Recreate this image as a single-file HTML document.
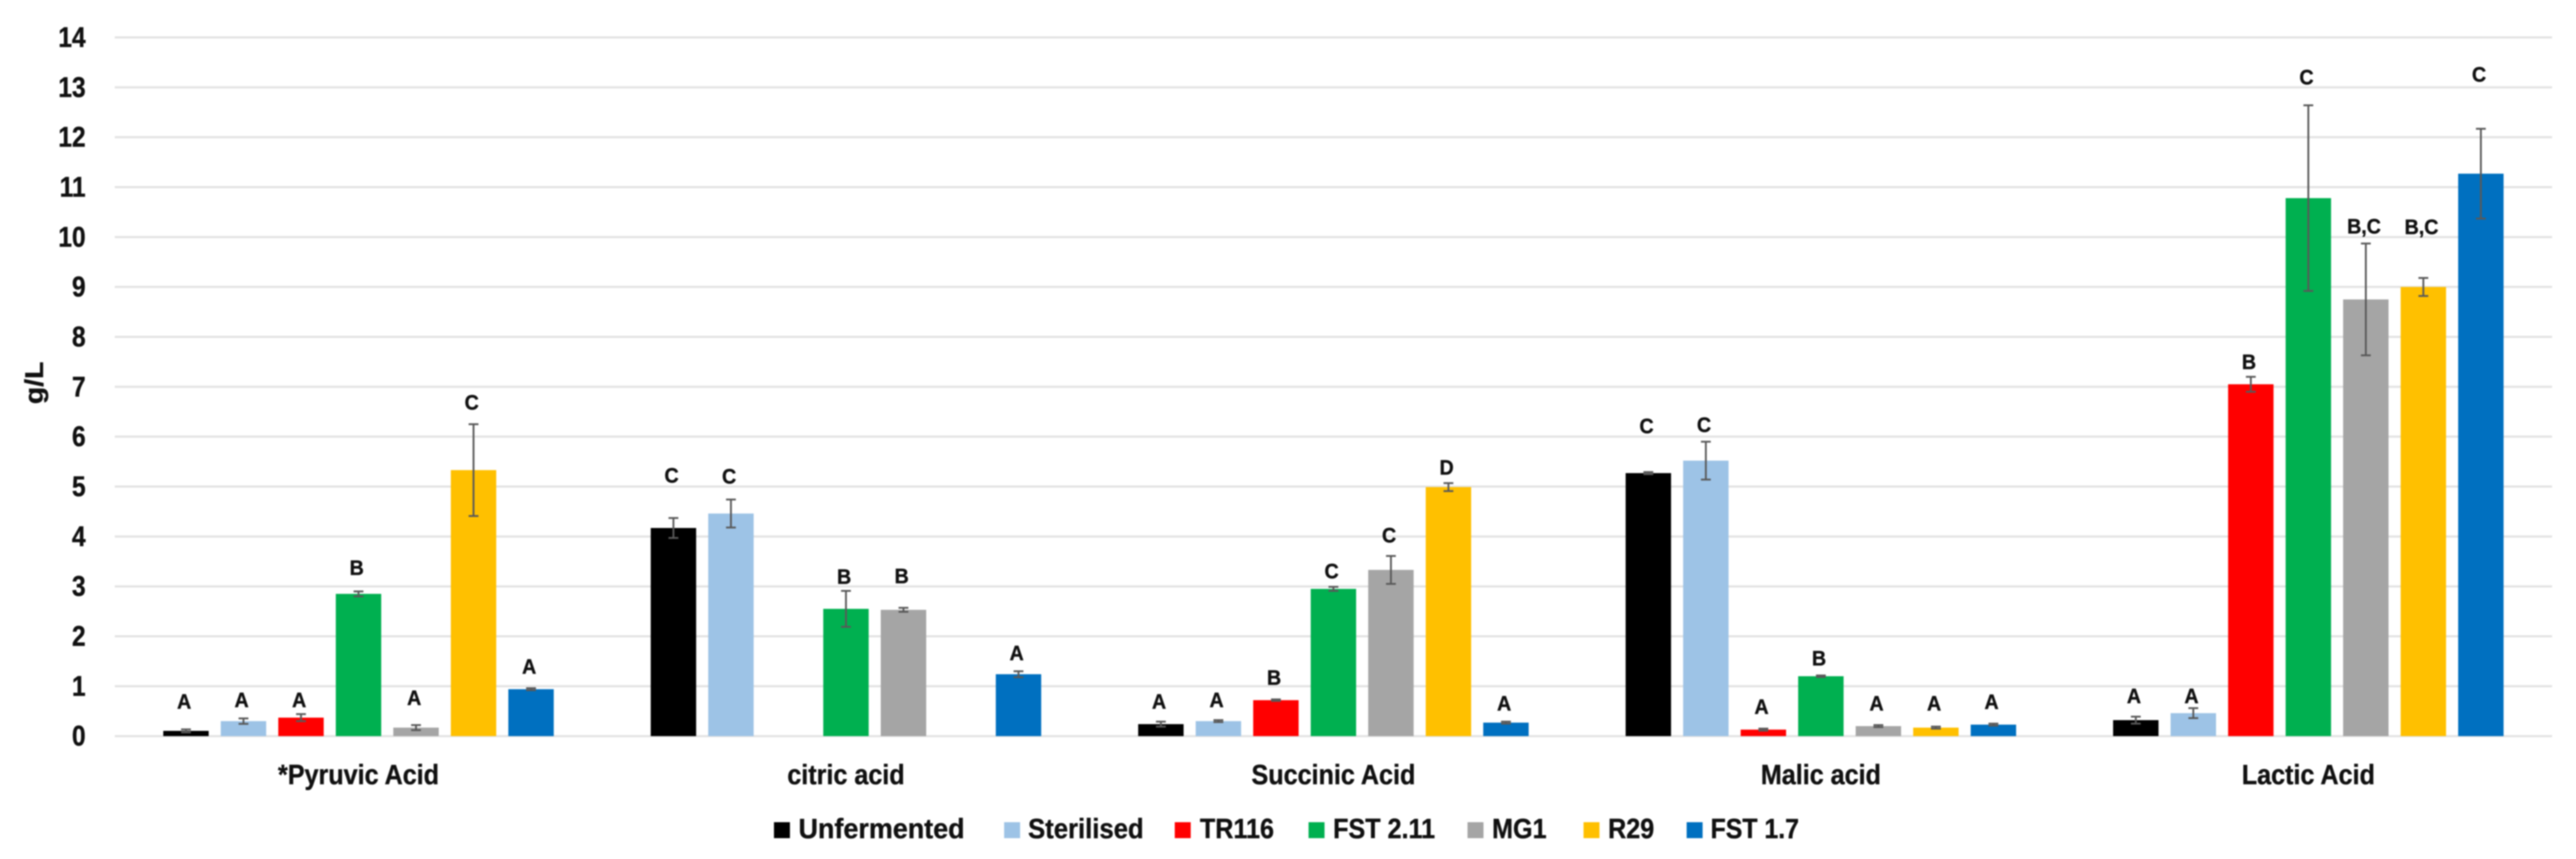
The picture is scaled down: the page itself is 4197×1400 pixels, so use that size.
<!DOCTYPE html>
<html lang="en">
<head>
<meta charset="utf-8">
<title>Organic acids by fermentation strain</title>
<style>
html,body{margin:0;padding:0;background:#fff;}
body{width:4197px;height:1400px;overflow:hidden;}
#chart{display:block;filter:blur(1px);}
text{font-family:"Liberation Sans",sans-serif;font-weight:700;fill:#111;stroke:#111;stroke-width:.6;}
.grid{stroke:#e3e3e3;stroke-width:3.5;}
.err{stroke:#595959;stroke-width:3;fill:none;}
.s0{fill:#000000;}.s1{fill:#9DC3E6;}.s2{fill:#FF0000;}.s3{fill:#00B050;}.s4{fill:#A5A5A5;}.s5{fill:#FFC000;}.s6{fill:#0070C0;}
.legend-text{font-size:45px;}
</style>
</head>
<body>
<svg id="chart" width="4197" height="1400" viewBox="0 0 4197 1400" xmlns="http://www.w3.org/2000/svg">
  <rect x="0" y="0" width="4197" height="1400" fill="#fff"/>
  <g id="grid"></g>
  <g id="bars"></g>
  <g id="errors"></g>
  <g id="letters"></g>
  <g id="yticks"></g>
  <g id="xlabels"></g>
  <text transform="translate(70,624) rotate(-90) scale(1.1,1)" text-anchor="middle" font-size="42">g/L</text>
  <g>
    <g><rect class="s0" x="1261" y="1340" width="26" height="26"/><text class="legend-text" transform="translate(1301,1366) scale(.975,1)">Unfermented</text></g>
    <g><rect class="s1" x="1636" y="1340" width="26" height="26"/><text class="legend-text" transform="translate(1675,1366) scale(.93,1)">Sterilised</text></g>
    <g><rect class="s2" x="1914" y="1340" width="26" height="26"/><text class="legend-text" transform="translate(1955,1366) scale(.91,1)">TR116</text></g>
    <g><rect class="s3" x="2132" y="1340" width="26" height="26"/><text class="legend-text" transform="translate(2172,1366) scale(.91,1)">FST 2.11</text></g>
    <g><rect class="s4" x="2391" y="1340" width="26" height="26"/><text class="legend-text" transform="translate(2431,1366) scale(.91,1)">MG1</text></g>
    <g><rect class="s5" x="2580" y="1340" width="26" height="26"/><text class="legend-text" transform="translate(2620,1366) scale(.91,1)">R29</text></g>
    <g><rect class="s6" x="2748" y="1340" width="26" height="26"/><text class="legend-text" transform="translate(2787,1366) scale(.9,1)">FST 1.7</text></g>
  </g>
</svg>
<script>
// ---- data (g/L), order follows categories ----
const categories = ['*Pyruvic Acid', 'citric acid', 'Succinic Acid', 'Malic acid', 'Lactic Acid'];
const seriesKeys = ['unfermented', 'sterilised', 'tr116', 'fst-2-11', 'mg1', 'r29', 'fst-1-7'];
const yTickLabels = [0, 1, 2, 3, 4, 5, 6, 7, 8, 9, 10, 11, 12, 13, 14];

const unfermented = [0.105, 4.17, 0.24, 5.27, 0.32];
const sterilised  = [0.30, 4.46, 0.30, 5.52, 0.46];
const tr116       = [0.37, null, 0.72, 0.13, 7.05];
const fst211      = [2.85, 2.55, 2.95, 1.20, 10.78];
const mg1         = [0.17, 2.53, 3.33, 0.20, 8.75];
const r29         = [5.33, null, 4.99, 0.17, 9.00];
const fst17       = [0.94, 1.24, 0.27, 0.23, 11.27];

const unfermentedErr = [0.03, 0.20, 0.05, 0.02, 0.07];
const sterilisedErr  = [0.055, 0.28, 0.02, 0.38, 0.10];
const tr116Err       = [0.07, null, 0.015, 0.02, 0.15];
const fst211Err      = [0.05, 0.36, 0.04, 0.015, 1.86];
const mg1Err         = [0.05, 0.04, 0.28, 0.02, 1.12];
const r29Err         = [0.92, null, 0.08, 0.02, 0.18];
const fst17Err       = [0.02, 0.06, 0.02, 0.02, 0.90];

const unfermentedLetters = ['A', 'C', 'A', 'C', 'A'];
const sterilisedLetters  = ['A', 'C', 'A', 'C', 'A'];
const tr116Letters       = ['A', null, 'B', 'A', 'B'];
const fst211Letters      = ['B', 'B', 'C', 'B', 'C'];
const mg1Letters         = ['A', 'B', 'C', 'A', 'B,C'];
const r29Letters         = ['C', null, 'D', 'A', 'B,C'];
const fst17Letters       = ['A', 'A', 'A', 'A', 'C'];

// clearance of each letter above its error bar, in g/L
const unfermentedClear = [0.56, 0.86, 0.41, 0.93, 0.42];
const sterilisedClear  = [0.37, 0.47, 0.41, 0.34, 0.25];
const tr116Clear       = [0.29, null, 0.44, 0.44, 0.30];
const fst211Clear      = [0.48, 0.29, 0.32, 0.35, 0.57];
const mg1Clear         = [0.55, 0.64, 0.42, 0.44, 0.35];
const r29Clear         = [0.44, null, 0.32, 0.47, 1.03];
const fst17Clear       = [0.44, 0.37, 0.37, 0.44, 1.09];

const seriesValues  = [unfermented, sterilised, tr116, fst211, mg1, r29, fst17];
const seriesErrors  = [unfermentedErr, sterilisedErr, tr116Err, fst211Err, mg1Err, r29Err, fst17Err];
const seriesLetters = [unfermentedLetters, sterilisedLetters, tr116Letters, fst211Letters, mg1Letters, r29Letters, fst17Letters];
const seriesClear   = [unfermentedClear, sterilisedClear, tr116Clear, fst211Clear, mg1Clear, r29Clear, fst17Clear];

// ---- layout ----
const NS = 'http://www.w3.org/2000/svg';
const plotLeft = 187, plotRight = 4158, yZero = 1199.7, yTop = 61;
const yMax = yTickLabels[yTickLabels.length - 1];
const catWidth = (plotRight - plotLeft) / categories.length;
const barStep = 93.7, barWidth = 74;
const groupPad = (catWidth - (seriesKeys.length * barStep - (barStep - barWidth))) / 2;

function yScale(v) { return yZero - v * (yZero - yTop) / yMax; }
function barX(c, s) { return plotLeft + c * catWidth + groupPad + s * barStep; }
function make(tag, parentId) {
  const node = document.createElementNS(NS, tag);
  document.getElementById(parentId).appendChild(node);
  return node;
}

// gridlines and y tick labels
yTickLabels.forEach(function (t) {
  const line = make('line', 'grid');
  
  
  line.setAttribute('class', 'grid');
  line.setAttribute('x1', plotLeft);
  line.setAttribute('x2', plotRight);
  line.setAttribute('y1', yScale(t));
  line.setAttribute('y2', yScale(t));

  const label = make('text', 'yticks');
  
  
  label.setAttribute('text-anchor', 'end');
  label.setAttribute('font-size', '46');
  label.setAttribute('transform', 'translate(139.5,' + (yScale(t) + 15.5) + ') scale(.87,1)');
  label.textContent = t;
});

// category labels
categories.forEach(function (name, c) {
  const label = make('text', 'xlabels');
  
  
  label.setAttribute('text-anchor', 'middle');
  label.setAttribute('font-size', '45.5');
  label.setAttribute('transform', 'translate(' + (plotLeft + (c + 0.5) * catWidth) + ',1278) scale(.9,1)');
  label.textContent = name;
});

// bars, error bars, letters
seriesValues.forEach(function (values, s) {
  values.forEach(function (v, c) {
    if (v === null) { return; }
    const x = barX(c, s);
    const cx = x + barWidth / 2;
    const key = seriesKeys[s] + '-' + c;

    const bar = make('rect', 'bars');
    
    
    bar.setAttribute('class', 's' + s);
    bar.setAttribute('x', x);
    bar.setAttribute('y', yScale(v));
    bar.setAttribute('width', barWidth);
    bar.setAttribute('height', yZero - yScale(v));

    const e = seriesErrors[s][c];
    const hi = yScale(v + e), lo = yScale(v - e);
    const whisker = make('path', 'errors');
    
    
    whisker.setAttribute('class', 'err');
    whisker.setAttribute('d',
      'M' + (cx - 8) + ' ' + hi + 'H' + (cx + 8) +
      'M' + cx + ' ' + hi + 'V' + lo +
      'M' + (cx - 8) + ' ' + lo + 'H' + (cx + 8));

    const letter = make('text', 'letters');
    
    
    letter.setAttribute('text-anchor', 'middle');
    letter.setAttribute('font-size', '34');
    letter.setAttribute('transform', 'translate(' + (cx - 3) + ',' + (yScale(v + e + seriesClear[s][c]) + 12) + ') scale(.94,1)');
    letter.textContent = seriesLetters[s][c];
  });
});
</script>
</body>
</html>
